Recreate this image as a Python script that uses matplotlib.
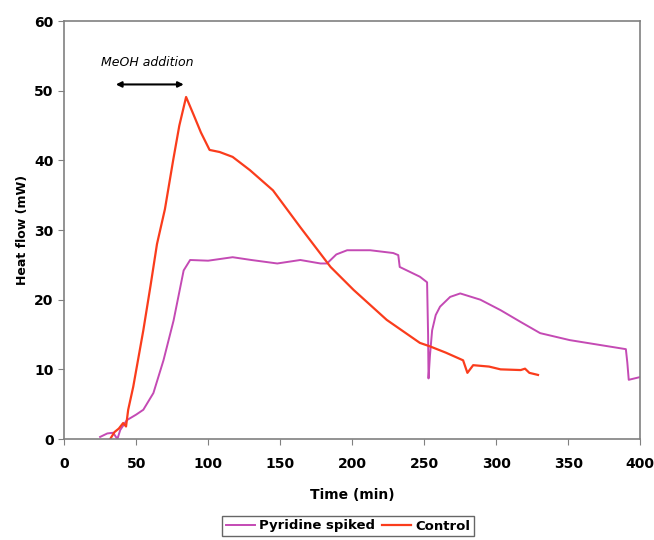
import matplotlib
matplotlib.use('Agg')
import matplotlib.pyplot as plt

# values
control_t = [32, 35, 38, 41, 43, 44.5, 48, 55, 60, 64.5, 70, 75.7, 80, 84.7, 90, 95, 101, 108,
             117, 129, 145, 164, 185, 201, 224, 247, 254, 265, 277, 280, 284, 295, 303, 317, 320, 323, 329]
control_y = [0, 1, 1.5, 2.3, 1.8, 4.2, 7.5, 15.6, 22, 28, 33, 40, 45, 49.1, 46.5, 44, 41.5, 41.2,
             40.5, 38.6, 35.7, 30.4, 24.7, 21.4, 17.1, 13.8, 13.3, 12.4, 11.3, 9.5, 10.6, 10.4, 10.0, 9.9, 10.1, 9.5, 9.2]

pyr_t = [25, 30, 34, 37, 39, 43.5, 50, 55, 62, 69, 76, 83, 87.5, 100, 117, 130, 148, 164, 178, 182.5,
         189, 196.5, 212.5, 228.5, 232, 233, 238, 247, 252, 252.7, 253, 254, 255.5, 258, 261, 268, 275,
         289, 303, 317, 330.5, 351, 363, 378, 390, 391, 392, 396, 400]
pyr_y = [0.3, 0.8, 0.9, 0, 1.3, 2.7, 3.5, 4.2, 6.6, 11.3, 17, 24.2, 25.7, 25.6, 26.1, 25.7, 25.2, 25.7, 25.2, 25.2,
         26.5, 27.1, 27.1, 26.7, 26.4, 24.7, 24.2, 23.3, 22.5, 15, 8.7, 12, 15.6, 17.8, 19, 20.4, 20.9,
         20, 18.5, 16.8, 15.2, 14.2, 13.8, 13.3, 12.9, 11, 8.5, 8.7, 8.9]

fig = plt.figure(figsize=(6.54, 5.4), dpi=100)
ax = fig.add_axes([0.098, 0.187, 0.881, 0.774])

ax.plot(pyr_t, pyr_y, color='#c44ab4', lw=1.4, label='Pyridine spiked')
ax.plot(control_t, control_y, color='#fa3c1c', lw=1.6, label='Control')

ax.set_xlim(0, 400)
ax.set_ylim(0, 60)
ax.set_xticks(range(0, 401, 50))
ax.set_yticks(range(0, 61, 10))
for lab in ax.get_xticklabels() + ax.get_yticklabels():
    lab.set_fontweight('bold')
ax.tick_params(labelsize=10, color='#808080', direction='out', length=4)
ax.tick_params(axis='x', pad=9)
for s in ax.spines.values():
    s.set_color('#808080')
    s.set_linewidth(1.2)

ax.set_xlabel('Time (min)', fontsize=10, fontweight='bold', labelpad=12)
ax.set_ylabel('Heat flow (mW)', fontsize=9, fontweight='bold')

ax.annotate('', xy=(34, 50.9), xytext=(85, 50.9),
            arrowprops=dict(arrowstyle='<|-|>', color='black', lw=1.5, mutation_scale=8))
ax.text(58, 54, 'MeOH addition', style='italic', fontsize=9, ha='center', va='center')

leg = fig.legend(loc='center', bbox_to_anchor=(348 / 654, 1 - 526 / 540), ncol=2, frameon=True,
                 fancybox=False, edgecolor='#404040', prop={'weight': 'bold', 'size': 9.5},
                 handlelength=2.2, columnspacing=0.6, handletextpad=0.3, borderpad=0.25)
leg.get_frame().set_linewidth(1.0)

fig.savefig('out.png', dpi=100)
